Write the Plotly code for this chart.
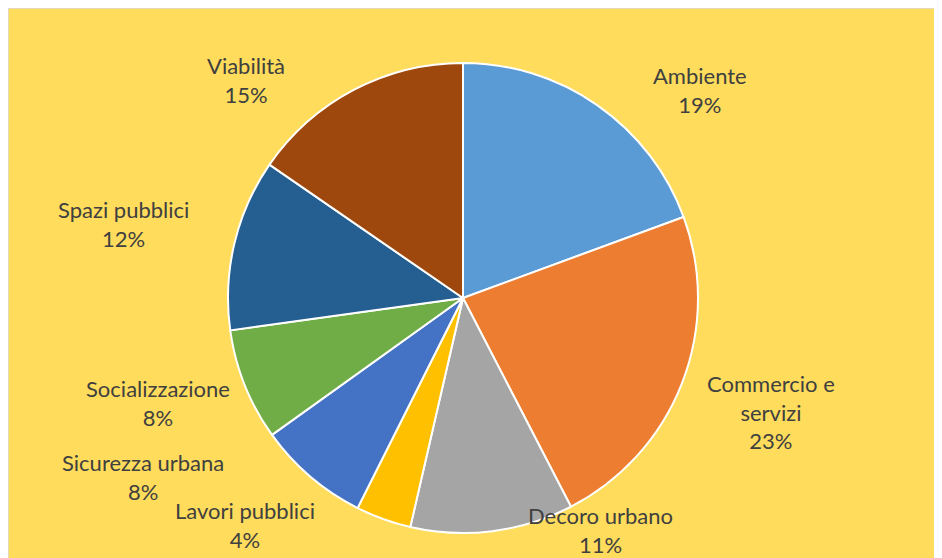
import plotly.graph_objects as go

categories = ["Ambiente", "Commercio e servizi", "Decoro urbano", "Lavori pubblici",
              "Sicurezza urbana", "Socializzazione", "Spazi pubblici", "Viabilità"]
label_text = ["Ambiente", "Commercio e<br>servizi", "Decoro urbano", "Lavori pubblici",
              "Sicurezza urbana", "Socializzazione", "Spazi pubblici", "Viabilità"]
values = [19.4, 23.0, 11.2, 3.8, 7.7, 7.7, 11.8, 15.4]
colors = ["#5B9BD5", "#ED7D31", "#A5A5A5", "#FFC000", "#4472C4", "#70AD47", "#255E91", "#9E480E"]

W, H = 942, 558
OFF = 8  # page body margin
cx, cy, r = 463 - OFF, 298 - OFF, 235

# label block centres (page pixels, from the reference layout)
label_pos = [(700, 90), (771, 412), (600, 530), (245, 525), (143, 477), (158, 403), (123, 224), (246, 80)]

fig = go.Figure(go.Pie(
    labels=categories,
    values=values,
    sort=False,
    direction="clockwise",
    rotation=0,
    marker=dict(colors=colors, line=dict(color="white", width=2)),
    textinfo="none",
    hoverinfo="label+percent",
    showlegend=False,
    domain=dict(x=[(cx - r) / W, (cx + r) / W], y=[(H - cy - r) / H, (H - cy + r) / H]),
    automargin=False,
))

total = sum(values)
annotations = []
for txt, v, (px, py) in zip(label_text, values, label_pos):
    annotations.append(dict(
        x=(px - OFF) / W, y=(H - (py - OFF)) / H, xref="paper", yref="paper",
        xanchor="center", yanchor="middle", showarrow=False,
        text=f"{txt}<br>{round(100 * v / total)}%",
        font=dict(family="Lato", size=22, color="#404040"),
    ))

fig.update_layout(
    width=W, height=H,
    margin=dict(l=0, r=0, t=0, b=0),
    paper_bgcolor="#FFDC5B",
    plot_bgcolor="#FFDC5B",
    annotations=annotations,
    shapes=[dict(type="rect", xref="paper", yref="paper", x0=0, x1=1.05, y0=-0.05, y1=1,
                 line=dict(color="#D9D9D9", width=1.5), fillcolor="rgba(0,0,0,0)", layer="below")],
)

fig.write_html("out.html")
